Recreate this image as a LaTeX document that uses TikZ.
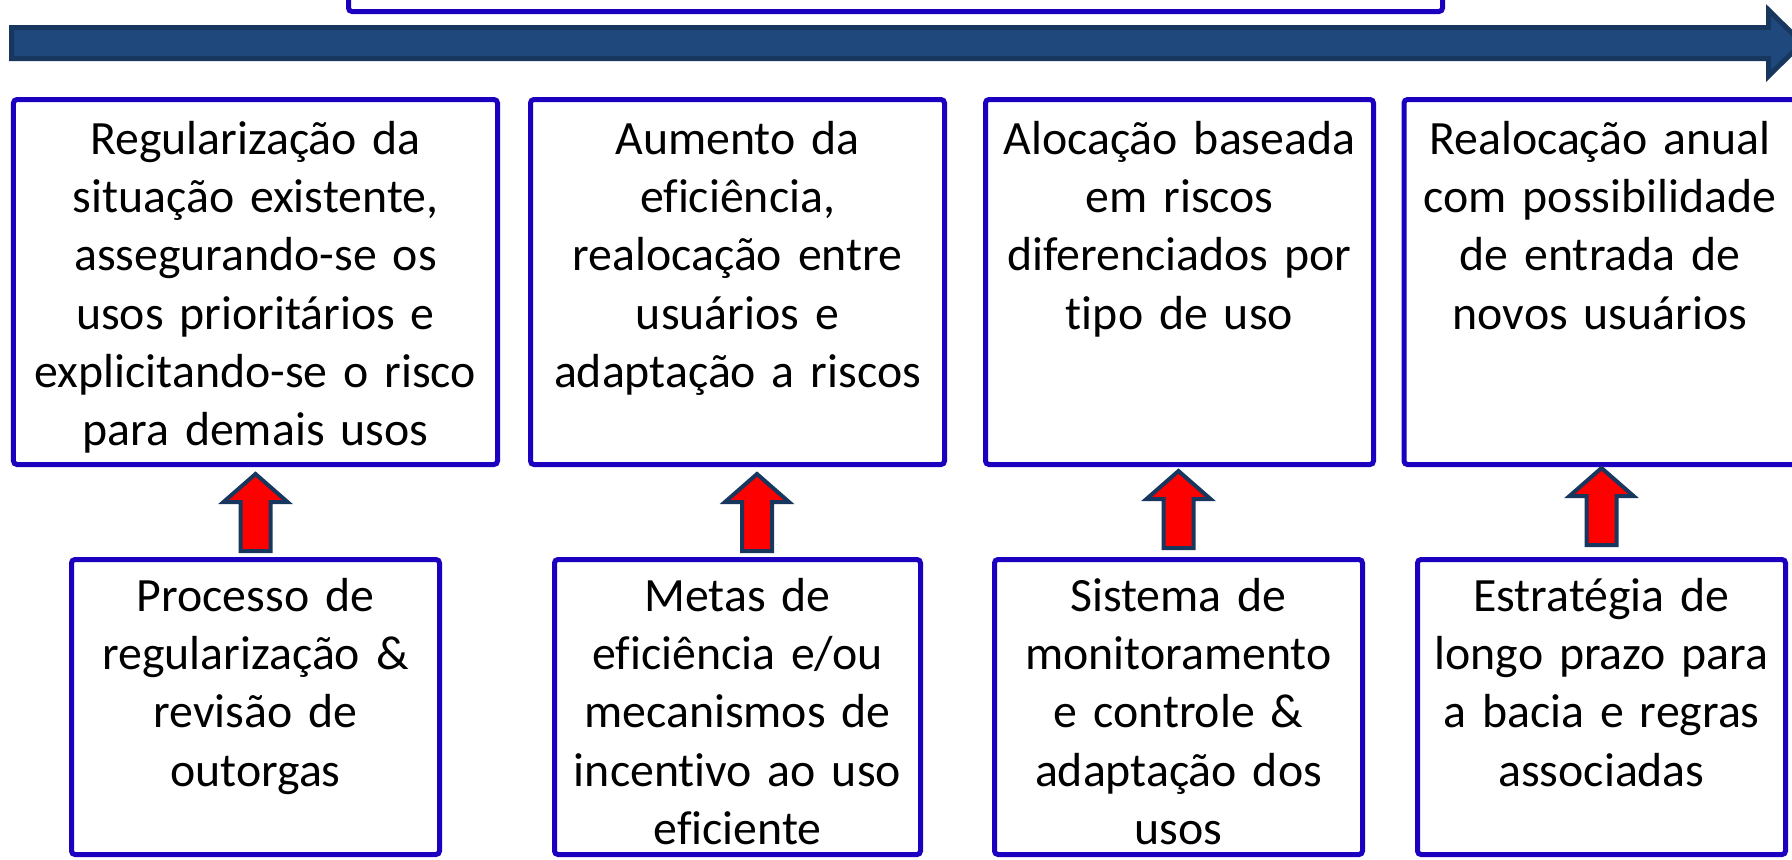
\documentclass[tikz,border=0pt]{standalone}
\usepackage{fontspec}
\setmainfont{Carlito}[Ligatures={NoCommon,NoRequired,NoContextual},RawFeature={-ccmp}]
\usetikzlibrary{calc}
\definecolor{frameblue}{RGB}{28,0,192}
\definecolor{navy}{RGB}{23,55,94}
\definecolor{timeblue}{RGB}{31,73,125}
\newcommand{\upblock}[1]{\draw[uparrow] #1 ++(-0.15,0) -- ++(0,0.49) -- ++(-0.17,0) -- ++(0.32,0.28) -- ++(0.32,-0.28) -- ++(-0.17,0) -- ++(0,-0.49) -- cycle;}

\begin{document}
\begin{tikzpicture}
\tikzstyle{frame} = [rectangle, rounded corners=1pt, draw=frameblue, line width=0.05cm, inner sep=0pt, align=center, anchor=north, font=\fontsize{13.6pt}{16.6pt}\selectfont]
\tikzstyle{stage} = [frame, text height=0.545cm, text depth=3.105cm]
\tikzstyle{tool} = [frame, text height=0.515cm, text depth=2.435cm]
\tikzstyle{uparrow} = [draw=navy, fill=red, line width=0.04cm, line join=miter]
\path[use as bounding box, clip] (0,0) rectangle (17.92,-8.59);

% time line
\draw[draw=navy, fill=timeblue, line width=0.05cm] (0.115,-0.275) -- (17.685,-0.275) -- (17.685,-0.10) -- (18.02,-0.43) -- (17.685,-0.76) -- (17.685,-0.585) -- (0.115,-0.585) -- cycle;
\node (top) [frame, anchor=south, minimum width=10.94cm, minimum height=1cm] at (8.955,-0.14) {};

% stages
\node (E1) [stage, text width=4.84cm] at (2.555,-0.97) {Regularização da\\situação existente,\\assegurando-se os\\usos prioritários e\\explicitando-se o risco\\para demais usos};
\node (E2) [stage, text width=4.14cm] at (7.375,-0.97) {Aumento da\\eficiência,\\realocação entre\\usuários e\\adaptação a riscos};
\node (E3) [stage, text width=3.88cm] at (11.795,-0.97) {Alocação baseada\\em riscos\\diferenciados por\\tipo de uso};
\node (E4) [stage, text width=3.92cm] at (16.00,-0.97) {Realocação anual\\com possibilidade\\de entrada de\\novos usuários};

% instruments
\node (I1) [tool, text width=3.68cm] at (2.555,-5.57) {Processo de\\regularização \&\\revisão de\\outorgas};
\node (I2) [tool, text width=3.66cm] at (7.375,-5.57) {Metas de\\eficiência e/ou\\mecanismos de\\incentivo ao uso\\eficiente};
\node (I3) [tool, text width=3.68cm] at (11.785,-5.57) {Sistema de\\monitoramento\\e controle \&\\adaptação dos\\usos};
\node (I4) [tool, text width=3.68cm] at (16.015,-5.57) {Estratégia de\\longo prazo para\\a bacia e regras\\associadas};

\upblock{($(I1.north)+(0,0.06)$)}
\upblock{($(I2.north)+(0.195,0.06)$)}
\upblock{($(I3.north)+(0,0.09)$)}
\upblock{($(I4.north)+(0,0.12)$)}
\end{tikzpicture}
\end{document}
